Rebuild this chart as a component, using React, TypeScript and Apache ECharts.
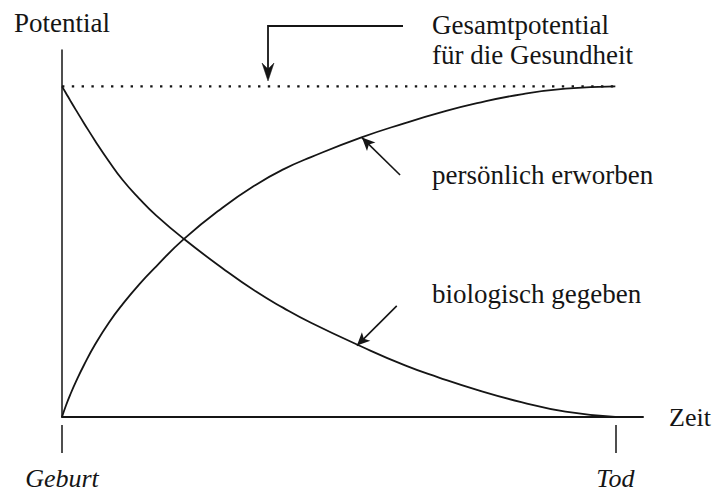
import React, { useEffect, useRef } from "react";
import * as echarts from "echarts";

// Time axis (0 = Geburt, 100 = Tod) and potential values
const time = [0, 0.7, 1.5, 2.5, 4, 6, 8.5, 11, 14, 17, 22, 29, 35, 40, 45, 54, 62, 68, 75, 83, 91, 100];
const biological = [100, 98, 95.7, 92.9, 88.8, 83.5, 77.3, 71.6, 66.0, 61.0, 53.9, 45.0, 38.0, 33.0, 28.5, 21.4, 15.6, 12.0, 8.2, 4.5, 1.6, 0];
const personal = [0, 3.4, 6.8, 10.6, 15.8, 22.0, 28.6, 34.2, 40.2, 45.5, 53.8, 63.3, 70.2, 74.9, 78.6, 84.5, 88.9, 91.9, 94.9, 97.6, 99.3, 100];
const totalTime = [0, 100];
const totalValue = [100, 100];
const tickValues = [0, 100];
const tickLabels = ["Geburt", "Tod"];

const FONT = "'Liberation Serif', 'DejaVu Serif', serif";
const INK = "#151515";

export default function App() {
  const ref = useRef<HTMLDivElement>(null);

  useEffect(() => {
    document.body.style.margin = "0";
    if (!ref.current) return;
    const chart = echarts.init(ref.current, undefined, { renderer: "svg" });

    const arrowLine = (from: number[], to: number[]) => [
      { coord: from, symbol: "none" },
      { coord: to, symbol: "arrow" },
    ];

    chart.setOption({
      animation: false,
      backgroundColor: "#ffffff",
      grid: { left: 62, right: 75, top: 50, bottom: 74, containLabel: false },
      xAxis: [
        {
          type: "value",
          min: 0,
          max: 105,
          axisLine: { show: true, lineStyle: { color: INK, width: 2 } },
          axisTick: { show: false },
          axisLabel: { show: false },
          splitLine: { show: false },
          name: "Zeit",
          nameLocation: "end",
          nameGap: 26,
          nameTextStyle: { fontFamily: FONT, fontSize: 26, color: INK },
        },
        {
          type: "value",
          min: 0,
          max: 105,
          position: "bottom",
          offset: 8,
          axisLine: { show: false },
          axisTick: {
            show: true,
            customValues: tickValues,
            length: 28,
            lineStyle: { color: INK, width: 1.5 },
          },
          axisLabel: {
            show: true,
            customValues: tickValues,
            margin: 40,
            formatter: (v: number) => tickLabels[tickValues.indexOf(v)] ?? "",
            fontFamily: FONT,
            fontStyle: "italic",
            fontSize: 26,
            color: INK,
          },
          splitLine: { show: false },
        },
      ],
      yAxis: {
        type: "value",
        min: 0,
        max: 111,
        axisLine: { show: true, lineStyle: { color: INK, width: 1.5 } },
        axisTick: { show: false },
        axisLabel: { show: false },
        splitLine: { show: false },
        name: "Potential",
        nameLocation: "end",
        nameGap: 14,
        nameTextStyle: { fontFamily: FONT, fontSize: 27, color: INK },
      },
      series: [
        {
          name: "Gesamtpotential",
          type: "line",
          xAxisIndex: 0,
          data: totalTime.map((t, i) => [t, totalValue[i]]),
          showSymbol: false,
          silent: true,
          lineStyle: { color: INK, width: 2.4, type: [2.4, 7.4] },
          z: 1,
        },
        {
          name: "biologisch gegeben",
          type: "line",
          xAxisIndex: 0,
          data: time.map((t, i) => [t, biological[i]]),
          showSymbol: false,
          smooth: 0.5,
          silent: true,
          lineStyle: { color: INK, width: 1.8 },
          markLine: {
            silent: true,
            symbolSize: [9, 13],
            label: { show: false },
            lineStyle: { color: INK, width: 1.6, type: "solid" },
            itemStyle: { color: INK },
            data: [arrowLine([60.5, 33.6], [53.3, 21.6])],
          },
        },
        {
          name: "persönlich erworben",
          type: "line",
          xAxisIndex: 0,
          data: time.map((t, i) => [t, personal[i]]),
          showSymbol: false,
          smooth: 0.5,
          silent: true,
          lineStyle: { color: INK, width: 1.8 },
          markLine: {
            silent: true,
            symbolSize: [9, 13],
            label: { show: false },
            lineStyle: { color: INK, width: 1.6, type: "solid" },
            itemStyle: { color: INK },
            data: [arrowLine([61.1, 73.2], [54.2, 84.5])],
          },
        },
      ],
      graphic: [
        {
          type: "polyline",
          shape: { points: [[403, 26], [268, 26], [268, 70]] },
          style: { stroke: INK, lineWidth: 1.8, fill: null },
          silent: true,
        },
        {
          type: "polygon",
          shape: { points: [[262, 63], [268, 69], [274, 63], [268, 81]] },
          style: { fill: INK, stroke: INK, lineWidth: 0.5 },
          silent: true,
        },
        {
          type: "text",
          x: 432,
          y: 25,
          style: { text: "Gesamtpotential", font: `27px ${FONT}`, fill: INK, verticalAlign: "middle", align: "left" },
          silent: true,
        },
        {
          type: "text",
          x: 432,
          y: 55,
          style: { text: "für die Gesundheit", font: `27px ${FONT}`, fill: INK, verticalAlign: "middle", align: "left" },
          silent: true,
        },
        {
          type: "text",
          x: 432,
          y: 175,
          style: { text: "persönlich erworben", font: `27px ${FONT}`, fill: INK, verticalAlign: "middle", align: "left" },
          silent: true,
        },
        {
          type: "text",
          x: 432,
          y: 294,
          style: { text: "biologisch gegeben", font: `27px ${FONT}`, fill: INK, verticalAlign: "middle", align: "left" },
          silent: true,
        },
      ],
    });

    return () => chart.dispose();
  }, []);

  return <div ref={ref} style={{ width: 718, height: 491 }} />;
}
